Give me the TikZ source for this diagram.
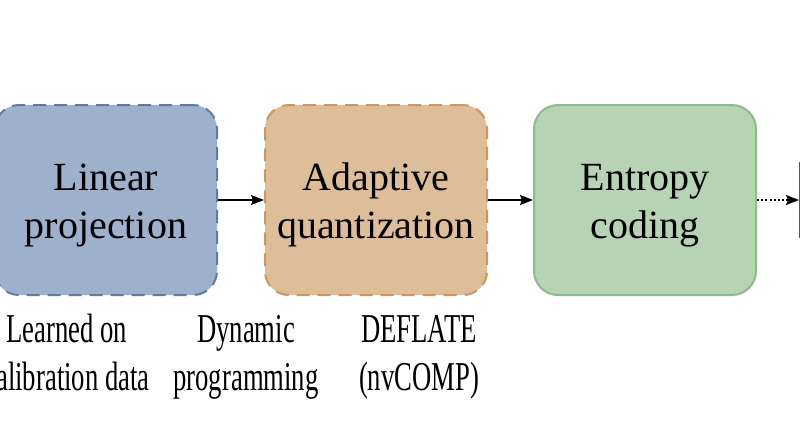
\documentclass[tikz,border=0pt]{standalone}
\usepackage{fontspec}
\setmainfont{Liberation Serif}
\newfontfamily\condfont[FakeStretch=0.65]{Liberation Serif}
\usetikzlibrary{arrows.meta}
\definecolor{bluefill}{HTML}{9DB1CD}
\definecolor{blueline}{HTML}{5E7BA0}
\definecolor{orangefill}{HTML}{DEBE98}
\definecolor{orangeline}{HTML}{C9975F}
\definecolor{greenfill}{HTML}{B6D4B3}
\definecolor{greenline}{HTML}{8DBC8A}
\definecolor{edgegray}{HTML}{555555}
\tikzset{
  stagebox/.style={rounded corners=24pt, minimum width=222pt, minimum height=190pt,
    line width=2pt, inner sep=0pt},
  dashedbox/.style={dash pattern=on 13pt off 8pt},
  boxtext/.style={align=center, anchor=base, inner sep=0pt,
    font=\fontsize{40}{48}\selectfont},
  sublabel/.style={align=center, anchor=base, inner sep=0pt,
    font=\condfont\fontsize{41}{48}\selectfont},
  flow/.style={line width=1.5pt, -{Stealth[length=13pt,width=10pt,inset=2pt]}},
  dottedflow/.style={flow, dash pattern=on 2pt off 2.2pt}
}
\begin{document}
\begin{tikzpicture}[x=1pt,y=-1pt]
\useasboundingbox (0,0) rectangle (800,445);
\clip (0,0) rectangle (800,445);
\fill[white] (0,0) rectangle (800,445);
\node[stagebox, dashedbox, fill=bluefill, draw=blueline] (lin) at (106,200) {};
\node[stagebox, dashedbox, fill=orangefill, draw=orangeline] (quant) at (376,200) {};
\node[stagebox, fill=greenfill, draw=greenline] (ent) at (645,200) {};
\node[boxtext] (lintext) at (106,238) {Linear\\projection};
\node[boxtext] (quanttext) at (376,238) {Adaptive\\quantization};
\node[boxtext] (enttext) at (645,238) {Entropy\\coding};
\node[draw=edgegray, line width=1.5pt, minimum width=80pt, minimum height=74pt, anchor=west, inner sep=0pt] (next) at (799,200) {};
\draw[flow] (lin.east) -- (quant.west);
\draw[flow] (quant.east) -- (ent.west);
\draw[dottedflow] (ent.east) -- (next.west);
\node[sublabel] (l1) at (67,390) {Learned on\\calibration data};
\node[sublabel] (l2) at (246,390) {Dynamic\\programming};
\node[sublabel] (l3) at (419,390) {DEFLATE\\(nvCOMP)};
\end{tikzpicture}
\end{document}
